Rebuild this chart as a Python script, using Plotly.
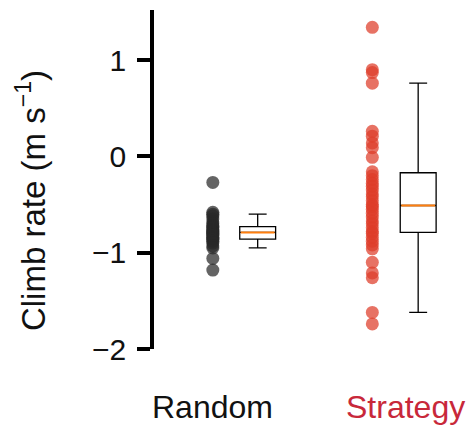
import plotly.graph_objects as go

# ---- data ----
categories = ["Random", "Strategy"]
random_vals = [-0.27, -0.58, -0.60, -0.62, -0.65, -0.68, -0.70, -0.72, -0.73, -0.74,
               -0.76, -0.77, -0.78, -0.79, -0.80, -0.81, -0.82, -0.84, -0.85, -0.86,
               -0.88, -0.90, -0.93, -0.95, -1.06, -1.18]
strategy_vals = [1.34, 0.90, 0.87, 0.76, 0.26, 0.21, 0.14, 0.09, -0.01, -0.16,
                 -0.20, -0.24, -0.28, -0.31, -0.35, -0.39, -0.42, -0.46, -0.50, -0.52,
                 -0.55, -0.59, -0.63, -0.67, -0.70, -0.74, -0.78, -0.80, -0.84, -0.88,
                 -0.92, -0.96, -1.10, -1.21, -1.26, -1.62, -1.74]
# box statistics: lower whisker, q1, median, q3, upper whisker
box_lower = [-0.95, -1.62]
box_q1 = [-0.86, -0.79]
box_median = [-0.79, -0.51]
box_q3 = [-0.73, -0.17]
box_upper = [-0.60, 0.76]
y_ticks = [-2, -1, 0, 1]
y_ticktext = ["\u22122", "\u22121", "0", "1"]

# ---- layout positions / styles ----
dot_pos = [0.0, 1.6]
box_pos = [0.45, 2.06]
label_pos = [0.0, 1.93]
box_w = 0.36
dot_colors = ["rgba(40,40,40,0.72)", "rgba(222,60,40,0.72)"]
label_colors = ["#111111", "#c8283a"]
FONT = "Liberation Sans, Arial, Helvetica, sans-serif"

fig = go.Figure()
for vals, xp, col in zip([random_vals, strategy_vals], dot_pos, dot_colors):
    fig.add_trace(go.Scatter(
        x=[xp] * len(vals), y=vals, mode="markers",
        marker=dict(size=13, color=col, line=dict(width=0)),
        showlegend=False, hoverinfo="y"))

fig.add_trace(go.Box(
    x=box_pos, q1=box_q1, median=box_median, q3=box_q3,
    lowerfence=box_lower, upperfence=box_upper,
    width=box_w, whiskerwidth=0.5, fillcolor="white",
    line=dict(color="black", width=1.3), boxpoints=False,
    showlegend=False))

for xp, med in zip(box_pos, box_median):
    fig.add_trace(go.Scatter(
        x=[xp - box_w / 2 + 0.01, xp + box_w / 2 - 0.01], y=[med, med],
        mode="lines", line=dict(color="#ff7f0e", width=2),
        showlegend=False, hoverinfo="skip"))

annotations = []
for name, xp, col in zip(categories, label_pos, label_colors):
    annotations.append(dict(
        x=xp, xref="x", y=-0.17, yref="paper", text=name, showarrow=False,
        xanchor="center", yanchor="middle",
        font=dict(family=FONT, size=32, color=col)))
annotations.append(dict(
    x=-0.385, xref="paper", y=0.437, yref="paper",
    text="Climb rate (m s<sup>\u22121</sup>)", textangle=-90, showarrow=False,
    xanchor="center", yanchor="middle",
    font=dict(family=FONT, size=33, color="#111111")))

fig.update_layout(
    width=473, height=428,
    margin=dict(l=154, r=0, t=10, b=79),
    paper_bgcolor="white", plot_bgcolor="white",
    font=dict(family=FONT, color="#111111"),
    annotations=annotations,
    xaxis=dict(range=[-0.59, 2.61], visible=False, fixedrange=True),
    yaxis=dict(range=[-2, 1.52], tickvals=y_ticks, ticktext=y_ticktext,
               showgrid=False, zeroline=False, showline=True,
               linecolor="black", linewidth=3.5, ticks="outside",
               ticklen=13, tickwidth=3.5, tickcolor="black",
               ticklabelstandoff=5,
               tickfont=dict(family=FONT, size=30, color="#111111")),
)

fig.write_html("out.html")
